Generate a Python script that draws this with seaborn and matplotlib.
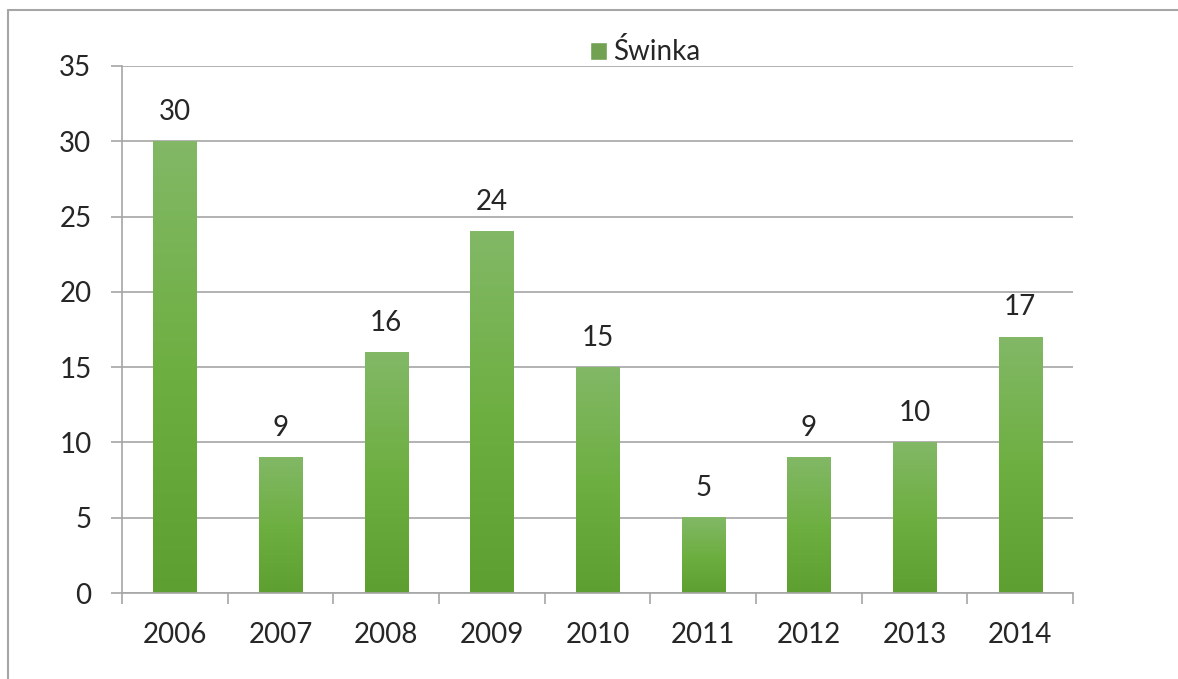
import numpy as np
import pandas as pd
import seaborn as sns
import matplotlib.pyplot as plt
from matplotlib.lines import Line2D
from matplotlib.colors import LinearSegmentedColormap

years = ["2006", "2007", "2008", "2009", "2010", "2011", "2012", "2013", "2014"]
values = [30, 9, 16, 24, 15, 5, 9, 10, 17]
series = "Świnka"

df = pd.DataFrame({"year": years, "value": values, "series": series})

sns.set_theme(style="white")
plt.rcParams["font.family"] = ["Lato", "DejaVu Sans"]

W, H = 1178, 679
fig = plt.figure(figsize=(W / 100, H / 100), dpi=100)
ax = fig.add_axes([122 / W, 1 - 593 / H, (1073 - 122) / W, (593 - 66) / H])

sns.barplot(data=df, x="year", y="value", hue="series", palette=["#6fae44"],
            width=0.41, ax=ax, legend=True)

ax.set_ylim(0, 35)
ax.set_xlim(-0.5, len(years) - 0.5)
ax.set_yticks(range(0, 36, 5))
ax.yaxis.grid(True, color="#a6a6a6", linewidth=1.2)
ax.set_axisbelow(True)
for s in ["top", "right"]:
    ax.spines[s].set_visible(False)
for s in ["left", "bottom"]:
    ax.spines[s].set_color("#a6a6a6")
    ax.spines[s].set_linewidth(1.2)
ax.set_xlabel("")
ax.set_ylabel("")

# tick marks at category boundaries, labels centred
ax.set_xticks(np.arange(-0.5, len(years)), minor=False)
ax.set_xticklabels([""] * (len(years) + 1))
ax.set_xticks(range(len(years)), minor=True)
ax.set_xticklabels(years, minor=True)
ax.tick_params(axis="x", which="major", direction="out", length=8, width=1.2,
               color="#a6a6a6", bottom=True)
ax.tick_params(axis="x", which="minor", length=0, pad=21, labelsize=20)
ax.tick_params(axis="y", direction="out", length=8, width=1.2, color="#a6a6a6",
               left=True, pad=14, labelsize=20)

# gradient fill for bars
cmap = LinearSegmentedColormap.from_list("g", ["#5e9f31", "#6eaf42", "#82b866"])
grad = np.linspace(0, 1, 256).reshape(-1, 1)
bars = [p for p in ax.patches if p.get_height() > 0]
for p, v in zip(bars, values):
    x0, w, h = p.get_x(), p.get_width(), p.get_height()
    p.set_facecolor("none")
    p.set_edgecolor("none")
    ax.imshow(grad, cmap=cmap, origin="lower", aspect="auto",
              extent=[x0, x0 + w, 0, h], zorder=2)
    ax.text(x0 + w / 2, h + 1.1, str(v), ha="center", va="bottom", fontsize=20)
ax.set_xlim(-0.5, len(years) - 0.5)
ax.set_ylim(0, 35)

leg = ax.legend(loc="center", bbox_to_anchor=(0.55, 1 + 14 / 527), frameon=False,
                fontsize=20, handlelength=0.6, handleheight=0.6, handletextpad=0.2,
                borderaxespad=0)

# outer chart border (left and top only)
fig.add_artist(Line2D([8 / W, 8 / W], [0, 1 - 10 / H], color="#a6a6a6", lw=1.5))
fig.add_artist(Line2D([8 / W, 1], [1 - 10 / H, 1 - 10 / H], color="#a6a6a6", lw=1.5))

fig.savefig("out.png", dpi=100)
